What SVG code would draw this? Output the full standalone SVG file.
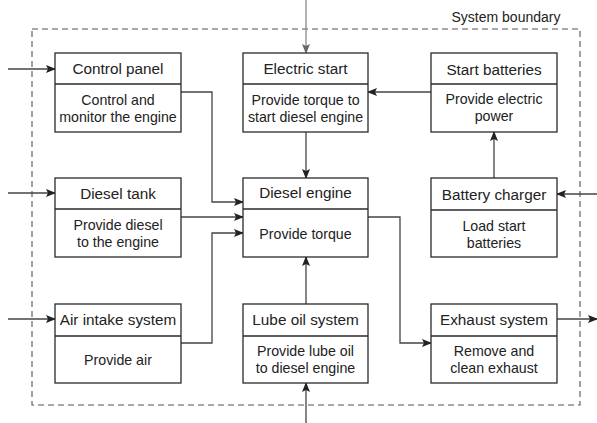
<svg xmlns="http://www.w3.org/2000/svg" width="597" height="423" viewBox="0 0 597 423">
<style>
.box{fill:#fff;stroke:#2a2a2a;stroke-width:1.3}
.div{stroke:#2a2a2a;stroke-width:1.3}
.t{font-family:"Liberation Sans",Arial,sans-serif;font-size:15.3px;fill:#222;text-anchor:middle}
.b{font-family:"Liberation Sans",Arial,sans-serif;font-size:14.2px;fill:#222;text-anchor:middle}
.c{fill:none;stroke:#444;stroke-width:1.3;marker-end:url(#ah)}
.cg{fill:none;stroke:#888;stroke-width:1.3;marker-end:url(#ahg)}
.bd{fill:none;stroke:#555;stroke-width:1.1;stroke-dasharray:6 4}
</style>
<defs>
<marker id="ah" markerWidth="10" markerHeight="8" refX="9" refY="4" orient="auto" markerUnits="userSpaceOnUse">
<path d="M0,0 L10,4 L0,8 L2,4 z" fill="#222"/>
</marker>
<marker id="ahg" markerWidth="10" markerHeight="8" refX="9" refY="4" orient="auto" markerUnits="userSpaceOnUse">
<path d="M0,0 L10,4 L0,8 L2,4 z" fill="#666"/>
</marker>
</defs>
<rect width="597" height="423" fill="#fff"/>
<g id="boundary">
<rect class="bd" x="32" y="29" width="548" height="376"/>
<text x="506" y="22" font-family="'Liberation Sans',Arial,sans-serif" font-size="14" fill="#222" text-anchor="middle">System boundary</text>
</g>
<g id="connectors">
<path class="c" d="M8,69 H55"/>
<path class="c" d="M8,193 H55"/>
<path class="c" d="M8,319 H55"/>
<path class="c" d="M181,92 H212 V202 H243"/>
<path class="c" d="M181,217 H243"/>
<path class="c" d="M181,343 H212 V233 H243"/>
<path class="cg" d="M306,0 V53"/>
<path class="c" d="M306,132 V178"/>
<path class="c" d="M431,92 H368"/>
<path class="c" d="M494,178 V132"/>
<path class="c" d="M597,194 H557"/>
<path class="c" d="M368,217 H400 V343 H431"/>
<path class="c" d="M557,319 H597"/>
<path class="c" d="M306,304 V257"/>
<path class="c" d="M306,423 V383"/>
</g>
<g id="control-panel">
<rect class="box" x="55" y="53" width="126" height="79"/>
<line class="div" x1="55" y1="84" x2="181" y2="84"/>
<text class="t" x="118" y="74">Control panel</text>
<text class="b" x="118" y="105">Control and</text>
<text class="b" x="118" y="122">monitor the engine</text>
</g>
<g id="electric-start">
<rect class="box" x="243" y="53" width="125" height="79"/>
<line class="div" x1="243" y1="84" x2="368" y2="84"/>
<text class="t" x="305.5" y="74">Electric start</text>
<text class="b" x="305.5" y="105">Provide torque to</text>
<text class="b" x="305.5" y="122">start diesel engine</text>
</g>
<g id="start-batteries">
<rect class="box" x="431" y="53" width="126" height="79"/>
<line class="div" x1="431" y1="84" x2="557" y2="84"/>
<text class="t" x="494" y="75">Start batteries</text>
<text class="b" x="494" y="104">Provide electric</text>
<text class="b" x="494" y="121">power</text>
</g>
<g id="diesel-tank">
<rect class="box" x="55" y="178" width="126" height="79"/>
<line class="div" x1="55" y1="209" x2="181" y2="209"/>
<text class="t" x="118" y="199">Diesel tank</text>
<text class="b" x="118" y="230">Provide diesel</text>
<text class="b" x="118" y="247">to the engine</text>
</g>
<g id="diesel-engine">
<rect class="box" x="243" y="178" width="125" height="79"/>
<line class="div" x1="243" y1="209" x2="368" y2="209"/>
<text class="t" x="305.5" y="198">Diesel engine</text>
<text class="b" x="305.5" y="239">Provide torque</text>
</g>
<g id="battery-charger">
<rect class="box" x="431" y="178" width="126" height="79"/>
<line class="div" x1="431" y1="210" x2="557" y2="210"/>
<text class="t" x="494" y="200">Battery charger</text>
<text class="b" x="494" y="231">Load start</text>
<text class="b" x="494" y="248">batteries</text>
</g>
<g id="air-intake">
<rect class="box" x="55" y="304" width="126" height="79"/>
<line class="div" x1="55" y1="336" x2="181" y2="336"/>
<text class="t" x="118" y="325">Air intake system</text>
<text class="b" x="118" y="365">Provide air</text>
</g>
<g id="lube-oil">
<rect class="box" x="243" y="304" width="125" height="79"/>
<line class="div" x1="243" y1="336" x2="368" y2="336"/>
<text class="t" x="305.5" y="325">Lube oil system</text>
<text class="b" x="305.5" y="356">Provide lube oil</text>
<text class="b" x="305.5" y="373">to diesel engine</text>
</g>
<g id="exhaust">
<rect class="box" x="431" y="304" width="126" height="79"/>
<line class="div" x1="431" y1="336" x2="557" y2="336"/>
<text class="t" x="494" y="325">Exhaust system</text>
<text class="b" x="494" y="356">Remove and</text>
<text class="b" x="494" y="373">clean exhaust</text>
</g>
</svg>
